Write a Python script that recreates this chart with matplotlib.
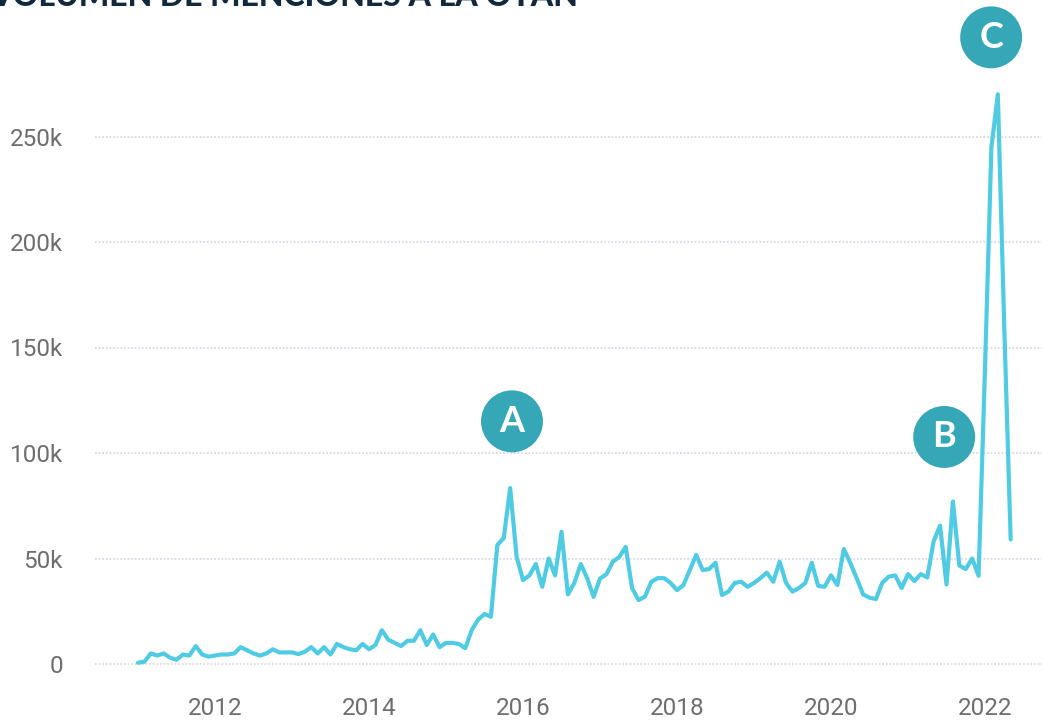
import matplotlib
matplotlib.use("Agg")
import matplotlib.pyplot as plt
from matplotlib.ticker import FuncFormatter, FixedLocator

# Monthly mentions (thousands), Jan 2011 .. May 2022
start_year = 2011
mentions_k = [
    # 2011
    0.6, 1.1, 5, 4, 5, 3, 2, 4.5, 4, 8.5, 4.5, 3.5,
    # 2012
    4, 4.5, 4.5, 5, 8, 6.5, 5, 4, 5, 7, 5.5, 5.5,
    # 2013
    5.5, 4.7, 5.8, 8, 5, 8, 4.5, 9.5, 8, 7, 6.5, 9.5,
    # 2014
    7, 9, 16, 11.5, 10, 8.5, 11, 11, 16, 9, 14, 8,
    # 2015
    10, 10, 9.5, 7.5, 16, 21, 23.7, 22.4, 56.4, 59.7, 83.4, 50.9,
    # 2016
    39.8, 42, 47.4, 36.6, 50, 42, 62.7, 33, 38.4, 47.4, 40.7, 31.8,
    # 2017
    40.5, 42.5, 48.5, 50.7, 55.5, 36, 30.3, 31.9, 39, 40.7, 40.7, 38.4,
    # 2018
    35, 37.4, 44.5, 51.7, 44.5, 45, 48, 32.7, 34.3, 38.4, 39, 36.6,
    # 2019
    38.4, 40.7, 43.3, 39, 48.5, 38.4, 34.3, 36, 38.4, 48, 37, 36.6,
    # 2020
    42, 37.4, 54.5, 47.9, 40.7, 33, 31.4, 30.8, 38.5, 41.4, 42, 36,
    # 2021
    42.6, 39.3, 42.6, 41, 58.2, 65.6, 37.7, 77, 46.7, 45, 50, 41.8,
    # 2022
    140, 245, 270, 160, 59,
]
year_ticks = [2012, 2014, 2016, 2018, 2020, 2022]
y_ticks_k = [0, 50, 100, 150, 200, 250]
title = "VOLUMEN DE MENCIONES A LA OTAN"
markers = ["A", "B", "C"]
marker_x = [2015.857, 2021.47, 2022.08]
marker_y_k = [115, 107.6, 297]

W, H = 1042, 720
fig = plt.figure(figsize=(W / 100, H / 100), dpi=100)
fig.patch.set_facecolor("white")

ax_left, ax_right, ax_bottom, ax_top = 95, 1042, 680, 20
ax = fig.add_axes([ax_left / W, (H - ax_bottom) / H,
                   (ax_right - ax_left) / W, (ax_bottom - ax_top) / H])

xs = [start_year + i / 12 for i in range(len(mentions_k))]
ys = [v * 1000 for v in mentions_k]
ax.plot(xs, ys, color="#4FCBE3", lw=3.0, solid_joinstyle="round",
        solid_capstyle="round", zorder=3)

px_per_year = 77.0
ax.set_xlim(2012 + (ax_left - 215) / px_per_year, 2012 + (ax_right - 215) / px_per_year)
px_per_k = 2.11
ax.set_ylim(-(ax_bottom - 664) / px_per_k * 1000, (664 - ax_top) / px_per_k * 1000)

ax.xaxis.set_major_locator(FixedLocator(year_ticks))
ax.xaxis.set_major_formatter(FuncFormatter(lambda v, p: f"{int(round(v))}"))
ax.yaxis.set_major_locator(FixedLocator([v * 1000 for v in y_ticks_k]))
ax.yaxis.set_major_formatter(FuncFormatter(lambda v, p: "0" if v == 0 else f"{int(v/1000)}k"))

for s in ax.spines.values():
    s.set_visible(False)
ax.tick_params(axis="both", length=0, labelsize=17.5, labelcolor="#6e6e6e")
ax.tick_params(axis="x", pad=12)
ax.tick_params(axis="y", pad=23)
for lab in ax.get_xticklabels() + ax.get_yticklabels():
    lab.set_fontfamily("Roboto")

ax.grid(axis="y", linestyle=(0, (1.0, 1.0)), color="#dadae4", lw=1.3, zorder=0)
ax.grid(axis="x", visible=False)

for lbl, mx, my in zip(markers, marker_x, marker_y_k):
    ax.scatter([mx], [my * 1000], s=1990, color="#36A7B6", zorder=5,
               clip_on=False, edgecolors="none")
    ax.text(mx, my * 1000, lbl, color="white", fontsize=26, fontweight="bold",
            family="Lato", ha="center", va="center", zorder=6, clip_on=False)

# Title partially cut off at top of the figure
t = fig.text(-10 / W, 1 - 6 / H, title, fontsize=25, fontweight="black",
             family="Lato", color="#12283C", ha="left", va="baseline")
fig.canvas.draw()
bb = t.get_window_extent()
target = 590.0
t.set_fontsize(25 * target / bb.width)

fig.savefig("out.png", dpi=100)
